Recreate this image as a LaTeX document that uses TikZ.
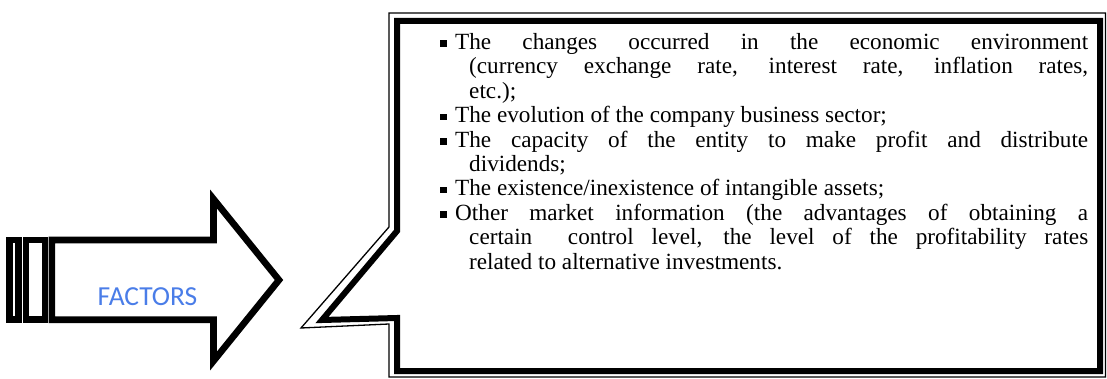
\documentclass[tikz,border=0pt]{standalone}
\usepackage{fontspec}
\setmainfont{Liberation Serif}
\newfontfamily\labelfont{Carlito}
\definecolor{factorblue}{HTML}{4A7DE8}
% one paragraph of the list: square bullet, hanging indent for wrapped lines
\newcommand\sqitem[1]{\noindent\hangindent=29pt\hangafter=1
  \makebox[15pt][l]{\rule[2.5pt]{6.5pt}{6.5pt}}#1\par}
\begin{document}
\begin{tikzpicture}[x=1pt,y=-1pt,
  heavy/.style={line width=6.6pt, line join=miter, miter limit=20},
  bold/.style={line width=6pt, line join=miter, miter limit=20},
  fine/.style={line width=1.3pt, line join=miter, miter limit=20}]
\useasboundingbox (0,0) rectangle (1107,379);

% striped tail of the block arrow
\draw[heavy] (9.35,240) rectangle (18.35,319.7);
\draw[heavy] (26,240) rectangle (45,319.7);
% block arrow body
\draw[heavy] (51.9,240) -- (213.5,240) -- (213.5,199) -- (279,280)
  -- (213.5,361) -- (213.5,319.7) -- (51.9,319.7) -- cycle;
\node[font=\labelfont\fontsize{27.5}{30}\selectfont, text=factorblue,
  anchor=base, inner sep=0pt] (factors) at (147.5,305) {FACTORS};

% callout box: thin outer line, thick inner line
\draw[fine] (389,13) -- (1105.5,13) -- (1105.5,377) -- (389,377)
  -- (389,324) -- (301,328) -- (389,227) -- cycle;
\draw[bold] (397,21) -- (1100,21) -- (1100,371) -- (397,371)
  -- (397,318) -- (322,320) -- (397,231) -- cycle;

\node[anchor=base west, inner sep=0pt, text width=648pt, align=justify,
  font=\fontsize{23.2}{24.4}\selectfont] (items) at (440,49.5) {%
  \tolerance=10000 \hyphenpenalty=10000 \exhyphenpenalty=10000
  \parskip=0pt
  \sqitem{The changes occurred in the economic environment\linebreak
    (currency exchange rate, interest rate, inflation rates,\linebreak
    etc.);}
  \sqitem{The evolution of the company business sector;}
  \sqitem{The capacity of the entity to make profit and distribute\linebreak
    dividends;}
  \sqitem{The existence/inexistence of intangible assets;}
  \sqitem{Other market information (the advantages of obtaining a\linebreak
    certain\ \ control level, the level of the profitability rates\linebreak
    related to alternative investments.}};
\end{tikzpicture}
\end{document}
